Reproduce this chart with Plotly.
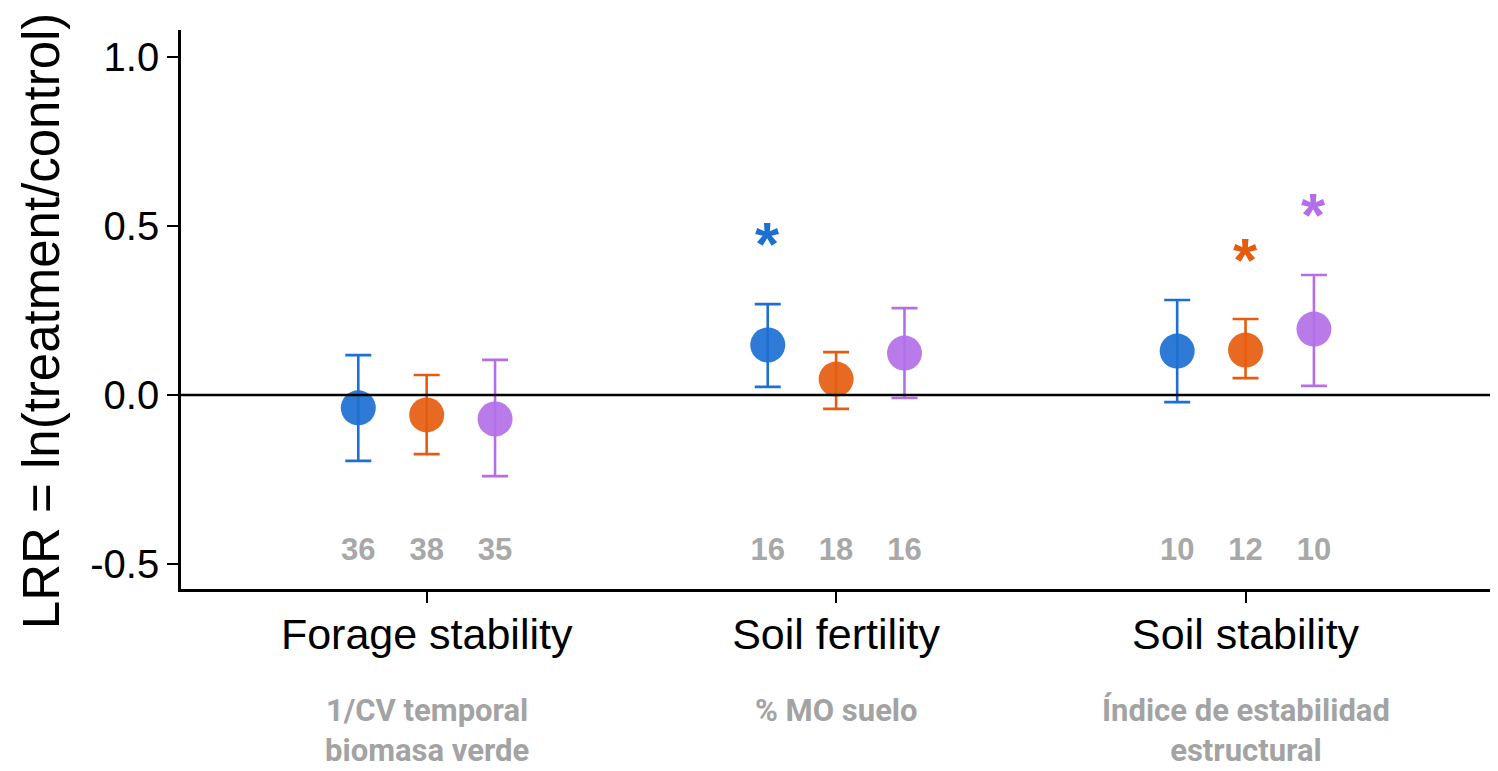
import plotly.graph_objects as go

categories = ["Forage stability", "Soil fertility", "Soil stability"]
sub_labels = ["1/CV temporal<br>biomasa verde", "% MO suelo", "Índice de estabilidad<br>estructural"]
groups = ["g1", "g2", "g3"]
colors = ["#1C6FD3", "#E65C0E", "#B36FE8"]

# mean LRR per group (rows) and category (columns)
means = [
    [-0.038, 0.148, 0.130],
    [-0.059, 0.047, 0.133],
    [-0.071, 0.124, 0.195],
]
upper = [
    [0.118, 0.269, 0.281],
    [0.059, 0.127, 0.225],
    [0.104, 0.257, 0.355],
]
lower = [
    [-0.195, 0.024, -0.021],
    [-0.175, -0.041, 0.050],
    [-0.240, -0.009, 0.027],
]
n_labels = [
    [36, 16, 10],
    [38, 18, 12],
    [35, 16, 10],
]
# significance stars: (group index, category index, y position)
stars_group = [0, 1, 2]
stars_cat = [1, 2, 2]
stars_y = [0.478, 0.432, 0.563]

n_label_y = -0.465
dodge = 0.167
y_range = [-0.574, 1.08]
x_range = [0.4, 3.597]
y_ticks = [-0.5, 0.0, 0.5, 1.0]
y_ticktext = ["-0.5", "0.0", "0.5", "1.0"]
y_title = "LRR = ln(treatment/control)"

fig = go.Figure()

for gi in range(3):
    xs = [ci + 1 + (gi - 1) * dodge for ci in range(3)]
    fig.add_trace(go.Scatter(
        x=xs, y=means[gi], mode="markers",
        marker=dict(size=35, color=colors[gi], opacity=0.92, line=dict(width=0)),
        error_y=dict(
            type="data", symmetric=False,
            array=[u - m for u, m in zip(upper[gi], means[gi])],
            arrayminus=[m - l for m, l in zip(means[gi], lower[gi])],
            color=colors[gi], thickness=2.6, width=13,
        ),
        showlegend=False, hoverinfo="skip",
    ))
    # N labels
    fig.add_trace(go.Scatter(
        x=xs, y=[n_label_y] * 3, mode="text",
        text=[str(v) for v in n_labels[gi]],
        textfont=dict(family="Liberation Sans, Arial, sans-serif", size=31, color="#A8A8A8", weight="bold"),
        showlegend=False, hoverinfo="skip",
    ))

for g, c, y in zip(stars_group, stars_cat, stars_y):
    fig.add_annotation(
        x=c + 1 + (g - 1) * dodge, y=y, xref="x", yref="y",
        text="<b>*</b>", showarrow=False, yshift=-10,
        font=dict(family="Liberation Sans, Arial, sans-serif", size=62, color=colors[g]),
    )

for ci, lab in enumerate(sub_labels):
    fig.add_annotation(
        x=ci + 1, y=-0.18, xref="x", yref="paper", yanchor="top",
        text=lab, showarrow=False,
        font=dict(family="Roboto, sans-serif", size=31, color="#A3A3A3", weight="bold"),
        align="center",
    )

fig.add_annotation(
    x=-0.107, y=0.479, xref="paper", yref="paper", xanchor="center", yanchor="middle",
    text=y_title, textangle=-90, showarrow=False,
    font=dict(family="Liberation Sans, Arial, sans-serif", size=51, color="black"),
)

fig.add_shape(type="line", xref="paper", yref="y", x0=0, x1=1, y0=0, y1=0,
              line=dict(color="black", width=2.6))

fig.update_layout(
    width=1498, height=771,
    margin=dict(l=173, r=16, t=22, b=190),
    paper_bgcolor="white", plot_bgcolor="white",
    font=dict(family="Liberation Sans, Arial, sans-serif", color="black"),
    xaxis=dict(
        range=x_range, tickmode="array", tickvals=[1, 2, 3], ticktext=categories,
        showline=True, linecolor="black", linewidth=2.6, ticks="outside",
        ticklen=11, tickwidth=2.4, tickcolor="black", showgrid=False, zeroline=False,
        tickfont=dict(size=43, color="black"), ticklabelstandoff=-5,
    ),
    yaxis=dict(
        range=y_range, tickmode="array", tickvals=y_ticks, ticktext=y_ticktext,
        showline=True, linecolor="black", linewidth=2.6, ticks="outside",
        ticklen=11, tickwidth=2.4, tickcolor="black", showgrid=False, zeroline=False,
        tickfont=dict(size=40, color="black"),
    ),
)

fig.write_html("out.html")
